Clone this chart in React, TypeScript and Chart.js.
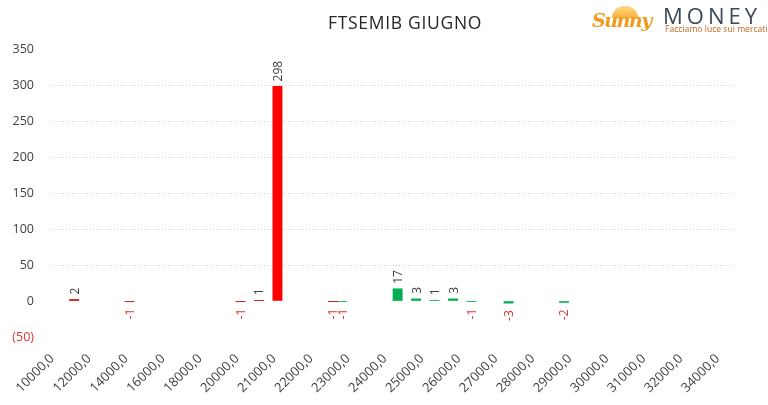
import React, { useEffect, useRef } from 'react';
import { Chart, registerables } from 'chart.js';

Chart.register(...registerables);

const categories = [
  '10000,0', '11000,0', '12000,0', '13000,0', '14000,0', '15000,0', '16000,0', '17000,0',
  '18000,0', '19000,0', '20000,0', '20500,0', '21000,0', '21500,0', '22000,0', '22500,0',
  '23000,0', '23500,0', '24000,0', '24500,0', '25000,0', '25500,0', '26000,0', '26500,0',
  '27000,0', '27500,0', '28000,0', '28500,0', '29000,0', '29500,0', '30000,0', '30500,0',
  '31000,0', '31500,0', '32000,0', '33000,0', '34000,0',
];

const redSeries: (number | null)[] = [
  null, 2, null, null, -1, null, null, null, null, null, -1, 1, 298, null, null, -1,
  null, null, null, null, null, null, null, null, null, null, null, null, null, null,
  null, null, null, null, null, null, null,
];

const greenSeries: (number | null)[] = [
  null, null, null, null, null, null, null, null, null, null, null, null, null, null, null, -1,
  null, null, 17, 3, 1, 3, -1, null, -3, null, null, -2, null, null,
  null, null, null, null, null, null, null,
];

const yMin = -50;
const yMax = 350;
const yStep = 50;

const FONT = "'Open Sans', sans-serif";
const TEXT = '#404040';
const NEG = '#e03232';

const dataLabelPlugin = {
  id: 'vertLabels',
  afterDatasetsDraw(chart: any) {
    const ctx = chart.ctx;
    chart.data.datasets.forEach((ds: any, di: number) => {
      const meta = chart.getDatasetMeta(di);
      meta.data.forEach((el: any, i: number) => {
        const v = ds.data[i];
        if (v === null || v === undefined) return;
        ctx.save();
        ctx.font = `12px ${FONT}`;
        ctx.textBaseline = 'middle';
        if (v >= 0) {
          ctx.fillStyle = TEXT;
          ctx.translate(el.x + 1, el.y - 5);
          ctx.rotate(-Math.PI / 2);
          ctx.textAlign = 'left';
        } else {
          ctx.fillStyle = NEG;
          ctx.translate(el.x + 1, el.y + 7);
          ctx.rotate(-Math.PI / 2);
          ctx.textAlign = 'right';
        }
        ctx.fillText(String(v), 0, 0);
        ctx.restore();
      });
    });
  },
};

export default function App() {
  const ref = useRef<HTMLCanvasElement>(null);

  useEffect(() => {
    document.body.style.margin = '0';
    const chart = new Chart(ref.current as HTMLCanvasElement, {
      type: 'bar',
      data: {
        labels: categories,
        datasets: [
          {
            label: 'A',
            data: redSeries,
            backgroundColor: (c: any) => (Math.abs(c.raw ?? 0) > 20 ? '#ff0000' : '#c00000'),
            barPercentage: 1,
            categoryPercentage: 1,
          },
          {
            label: 'B',
            data: greenSeries,
            backgroundColor: '#00b050',
            barPercentage: 1,
            categoryPercentage: 1,
          },
        ],
      },
      options: {
        responsive: false,
        animation: false,
        layout: { padding: { top: 49, right: 33, bottom: 0, left: 0 } },
        plugins: {
          legend: { display: false },
          tooltip: { enabled: false },
          title: { display: false },
        },
        scales: {
          x: {
            grid: { display: false, drawTicks: false },
            border: { display: false },
            ticks: {
              autoSkip: false,
              minRotation: 45,
              maxRotation: 45,
              padding: 14,
              labelOffset: -8,
              color: TEXT,
              font: { family: FONT, size: 13 },
              callback: (_v: any, i: number) => (i % 2 === 0 ? categories[i] : ''),
            },
            afterFit: (s: any) => {
              s.height = 68;
            },
          },
          y: {
            min: yMin,
            max: yMax,
            border: { display: false, dash: [1, 2] },
            grid: {
              drawTicks: false,
              color: (c: any) => {
                const v = c.tick?.value;
                return v > 0 && v < yMax ? '#d0d0d0' : 'rgba(0,0,0,0)';
              },
              lineWidth: 1,
            },
            ticks: {
              stepSize: yStep,
              padding: 17,
              color: (c: any) => (c.tick && c.tick.value < 0 ? NEG : TEXT),
              font: { family: FONT, size: 12.5 },
              callback: (v: any) => (v < 0 ? `(${-v})` : String(v)),
            },
            afterFit: (s: any) => {
              s.width = 51;
            },
          },
        },
      },
      plugins: [dataLabelPlugin],
    } as any);
    return () => chart.destroy();
  }, []);

  return (
    <div style={{ position: 'fixed', left: 0, top: 0, width: 768, height: 405, background: '#fff', fontFamily: FONT }}>
      <canvas ref={ref} width={768} height={405} style={{ display: 'block' }} />
      <div
        style={{
          position: 'absolute',
          left: 405,
          top: 10,
          transform: 'translateX(-50%)',
          fontSize: 17.5,
          letterSpacing: '0.7px',
          color: '#262626',
          whiteSpace: 'nowrap',
        }}
      >
        FTSEMIB GIUGNO
      </div>
      <div style={{ position: 'absolute', left: 590, top: 0, width: 178, height: 40, overflow: 'hidden' }}>
        <div
          style={{
            position: 'absolute',
            left: 22,
            top: 6,
            width: 26,
            height: 12,
            borderRadius: '13px 13px 0 0',
            background: 'linear-gradient(#ffd36b, #f6a21e)',
            opacity: 0.85,
          }}
        />
        <span
          style={{
            position: 'absolute',
            left: 2,
            top: 9,
            fontFamily: "'DejaVu Serif', serif",
            fontStyle: 'italic',
            fontWeight: 'bold',
            fontSize: 19,
            color: '#f29a1a',
            letterSpacing: '-1.5px',
          }}
        >
          Sunny
        </span>
        <span
          style={{
            position: 'absolute',
            left: 73,
            top: 0,
            fontSize: 22,
            letterSpacing: '4px',
            color: '#3b4a5a',
          }}
        >
          MONEY
        </span>
        <span
          style={{
            position: 'absolute',
            left: 75,
            top: 23,
            fontSize: 8.6,
            color: '#c0651c',
            whiteSpace: 'nowrap',
          }}
        >
          Facciamo luce sui mercati
        </span>
      </div>
    </div>
  );
}
